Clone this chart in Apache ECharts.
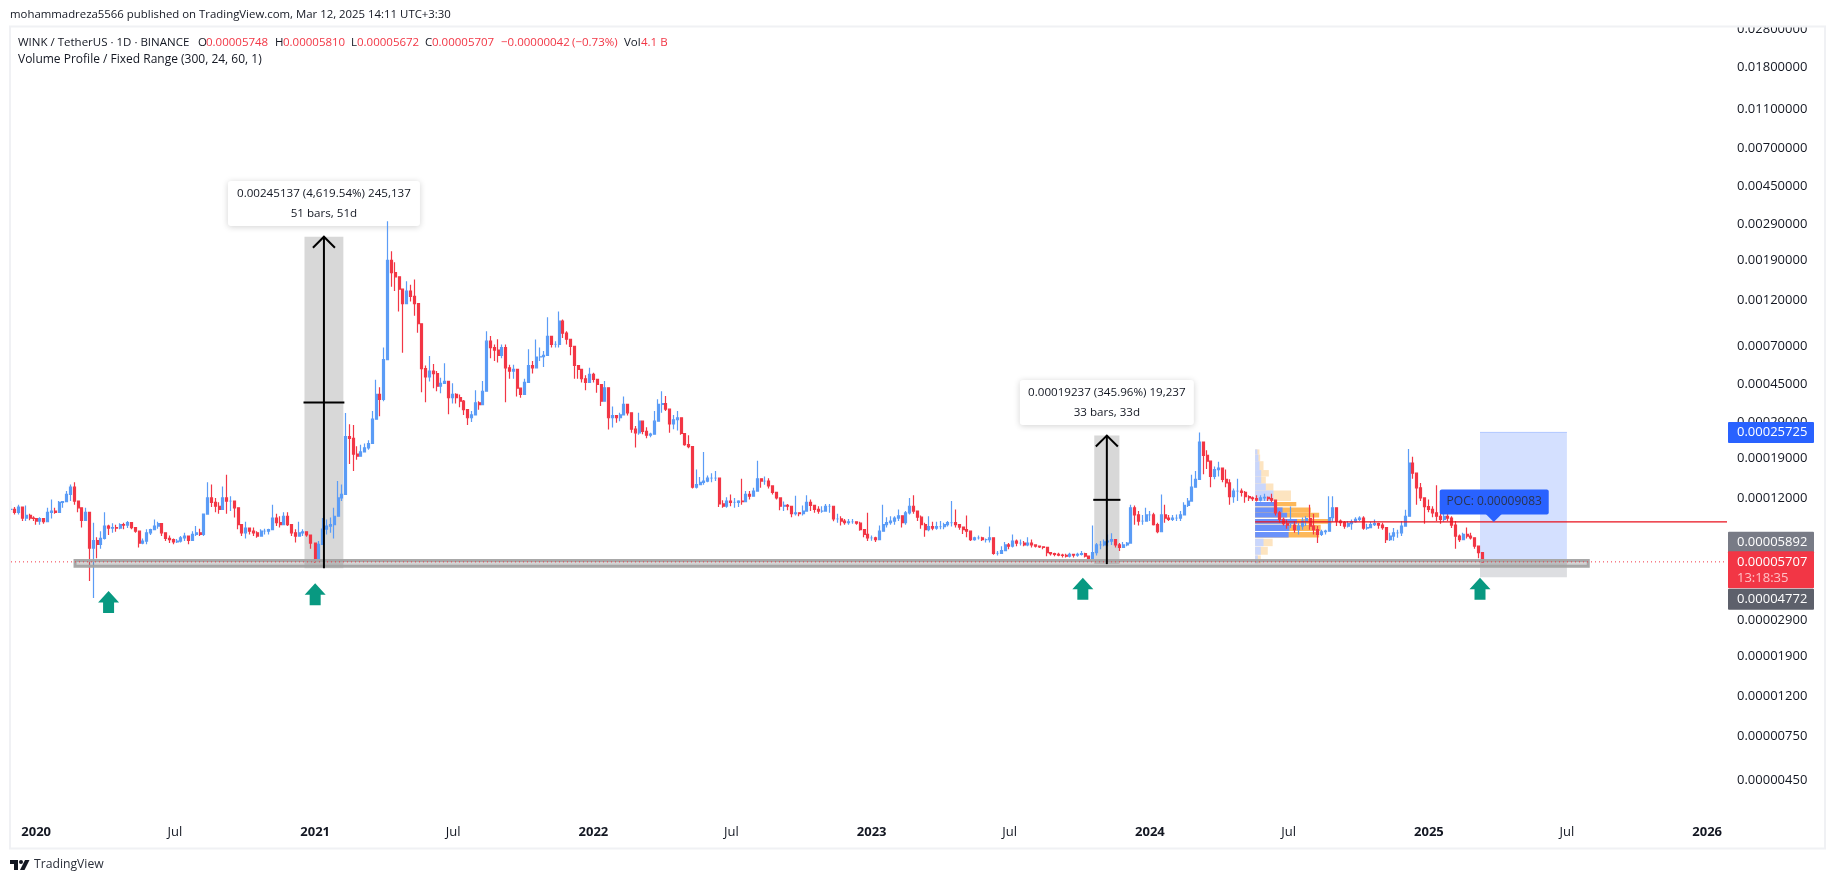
<!DOCTYPE html>
<html><head><meta charset="utf-8"><style>html,body{margin:0;padding:0;background:#fff}#c{width:1835px;height:883px}</style>
<script src="https://cdn.jsdelivr.net/npm/echarts@6/dist/echarts.min.js"></script></head><body><div id="c"></div>
<script>
// All prices are in units of 0.00000001 USDT. Each row is [high, low, close] of one 5-day step.
const UNIT=1e-8;
const barsLate2019=[[11570,10150,10500],[10800,9900,10150],[11100,9900,10800],[10800,9170,9500],[11000,9170,9800],[10000,9250,9500],[9700,9170,9450]];
const bars2020=[[9450,8800,9170],[9600,8800,9450],[9450,8900,9100],[10700,9450,10150],[11800,9450,10300],[10700,10000,10150],[11570,10800,11400],[11570,10700,11500],[13000,11800,12500],[14050,11570,13600],
[14400,11100,11570],[11400,10150,10700],[10000,8500,9250],[10700,9170,10150],[9700,4565,6700],[9000,3750,7300],[7600,5950,7000],[8160,6650,7500],[10150,7400,8650],[8800,7800,8450],
[8950,8000,8500],[8800,8100,8450],[8950,8350,8800],[9000,8350,8750],[9170,8450,9000],[9000,8350,8500],[8500,8000,8160],[7700,6750,7100],[7500,7000,7270],[8350,7000,8000],
[8400,7800,8300],[9350,8300,8650],[9100,8400,8900],[8650,7700,8000],[7800,7270,7500],[7750,7100,7400],[7500,7000,7200],[7450,7100,7270],[7700,7150,7550],[8000,7270,7700],
[7700,7000,7320],[8160,7400,7850],[8650,7700,8000],[8400,7700,7850],[10000,7700,9950],[14400,11400,12000],[14050,10800,11400],[12000,10150,10900],[11400,10000,10500],[13700,11100,12000],
[15700,10000,11570],[12250,10300,11570],[11570,9550,10700],[9550,8350,8800],[8800,7700,8000],[9100,7500,8450],[8500,7850,8160],[8500,7700,8000],[8160,7550,7700],[8350,7700,8160],
[8400,7850,8160],[8400,7850,8300],[11100,8500,9500],[10000,8650,9000],[9700,8500,8800],[10150,8900,9700],[10150,8650,8800],[8800,7700,8000],[8350,7150,7700],[9100,7700,8000],
[8350,7700,8100],[8160,7650,7800],[7850,6650,7100]];
const bars2021=[[6650,5650,5950],[7270,5950,7000],[9500,7100,8350],[9350,7850,8650],[9550,8000,8800],[10700,7500,9700],[14600,9700,12000],[14050,11570,12500],[32200,12800,24500],[28300,17800,24000],
[28000,16400,20000],[21900,18700,19500],[22300,19700,20500],[22600,20700,21500],[23500,21000,22600],[33000,27000,30000],[47500,30500,40000],[43500,31000,37800],[69000,37000,60000],[300000,60000,190000],
[211700,140000,165000],[186000,133000,157000],[158000,105000,136000],[136000,65000,115000],[149000,120000,133000],[143000,118000,125000],[152000,100000,115000],[100000,82000,91000],[88000,41000,54000],[56000,36500,49000],
[62500,46500,52500],[57000,43000,51000],[52500,41500,44000],[48500,40500,45500],[57500,45500,46500],[43000,31800,38500],[45500,36000,40000],[40500,36000,38500],[40000,34500,37000],[37500,31500,33500],
[33000,28000,30500],[33000,29000,31500],[42000,34500,36300],[37000,33500,35500],[46700,38500,41500],[83500,50500,74300],[79000,61000,69000],[71500,59000,67000],[76000,58000,63000],[71500,61000,69000],
[71500,36500,54500],[56500,48000,52500],[56500,48000,53500],[44900,39000,43000],[41500,38500,40000],[48000,40000,46000],[67700,52500,56000],[59000,51000,54500],[75800,56000,61800],[69000,59000,62000],
[66200,55000,63000],[98000,74300,78500],[78500,69000,71500],[74300,69000,71500],[105000,69000,93800],[95500,77000,81500],[83500,71500,76000],[74300,63000,70000],[66200,48000,56000],[56000,48000,53500],
[53500,46000,48000],[50000,42000,46000],[54500,46700,50500]];
const bars2022=[[51500,46000,47600],[47000,40800,44900],[39600,35000,37000],[46700,38500,43200],[40800,26600,30500],[34800,27200,31300],[31500,28800,30500],[32300,29300,31500],[39000,32900,35600],[34800,31300,32300],
[31500,25600,26700],[27700,21600,25600],[32300,25000,29300],[29500,25200,26000],[27300,24000,24900],[25600,24300,25200],[33000,25000,29300],[37800,31500,35600],[41500,32300,36000],[39300,33000,33700],
[32300,25600,28400],[31500,26700,29800],[33000,26300,30500],[29300,25000,25400],[24900,22000,22300],[24900,21400,21800],[21800,13400,13600],[16700,13400,14000],[15300,13900,14400],[20500,14000,14600],
[15600,14400,15100],[16000,14400,15100],[16400,14600,15100],[15100,10800,11200],[11700,10700,10900],[12100,10700,11570],[12500,10900,11400],[12000,10700,11400],[11700,10800,11570],[15000,11100,11500],
[13000,11800,12500],[13000,11800,12250],[13500,12250,13000],[18500,14000,15000],[15000,13500,14600],[15400,14000,14600],[15100,13400,13800],[13200,12500,12800],[12500,11800,12000],[12000,10400,10900],
[11500,10300,11000],[11200,10400,10900],[10900,9600,10000],[12300,9800,10100],[10100,9700,10000],[11000,9800,10300],[12400,10300,11400],[11800,10300,11000],[11100,10100,10500],[10900,10000,10300],
[10900,10100,10300],[11200,10300,10900],[11200,10100,10900],[10500,9150,9400],[10000,9000,9400],[9700,8700,9170],[9400,8800,9000],[9400,8800,9100],[9400,8900,9100],[9000,8800,8950],
[9100,8200,8300],[8300,7600,7850],[10100,7270,7550]];
const bars2023=[[7750,7300,7550],[7650,7200,7400],[8700,7400,8160],[11100,8500,8800],[9600,8500,9000],[9700,8800,9170],[9700,8800,9500],[10500,9170,9750],[9500,8500,9000],[10300,8800,10100],
[12000,9900,10900],[12400,10000,10300],[10100,9170,9600],[9800,8400,8800],[9000,7650,8300],[9700,8160,8600],[9100,8250,8450],[9100,8300,8600],[9170,8350,8600],[9000,8350,8800],
[9170,8600,9000],[11570,8600,9000],[10500,8500,8800],[8800,8300,8550],[8600,7900,8300],[9800,7600,8160],[8000,7270,7400],[7650,7300,7550],[7750,7400,7550],[7650,7270,7400],
[7500,7150,7400],[8600,7150,7550],[7550,6200,6300],[6470,6150,6300],[6850,6400,6500],[7200,6600,6950],[7100,6600,6850],[7850,6750,7270],[7400,6850,7100],[7400,6900,7100],
[7270,6850,6950],[7600,6850,7100],[7400,6750,6950],[6950,6750,6850],[6900,6700,6800],[6850,6600,6750],[6470,6100,6350],[6400,6150,6280],[6350,6100,6230],[6350,6100,6180],
[6280,6000,6150],[6280,6000,6100],[6350,6000,6230],[6280,6000,6180],[6350,6050,6230],[6470,6150,6280],[6350,6000,6100],[6100,5820,5950],[8700,5950,6350],[7100,6150,6950],
[7270,6600,6950],[7400,6850,7200],[7850,6850,7270],[7950,6950,7400],[7400,6750,6950],[7100,6470,6750],[7200,6850,6950],[7200,6850,7100],[11100,7700,10700],[11000,8800,9850],
[10300,8700,9170],[9850,8800,9170],[10700,9170,9850]];
const bars2024=[[10300,9170,9850],[10100,8700,8800],[9000,7950,8100],[12500,9000,9850],[11100,9000,9500],[9850,9170,9350],[9850,9170,9500],[9900,9170,9500],[10300,9170,9850],[11400,9850,11000],
[12000,10800,11570],[15700,12000,13600],[16400,13600,14900],[25725,15800,23000],[20700,15800,19700],[20900,16800,18400],[17000,13600,15400],[17300,14900,16700],[18300,15400,17000],[15400,14400,14900],
[16700,13600,14300],[14900,11100,12200],[13400,11350,13000],[15000,11600,13000],[13400,12200,12800],[13000,11350,12200],[12400,11570,12000],[12200,11600,11900],[12400,11500,11700],[12400,11500,12000],
[12600,11600,12100],[12200,11570,11900],[12600,11400,11700],[11400,9800,10100],[10300,9000,9350],[9550,8700,8900],[9350,8400,8750],[10850,8450,8750],[9170,8000,8300],[9000,7850,8650],
[9550,8300,9170],[9700,8650,9450],[11100,8300,8650],[10000,7850,8300],[8650,7100,7850],[8300,7700,8100],[8300,7850,8160],[12250,8160,9550],[12250,9100,10700],[10300,8650,9170],
[9350,8650,9000],[9170,8400,8650],[9170,8500,8900],[9350,8300,9100],[9600,9000,9350],[9700,9170,9500],[9700,8300,8450],[8900,8300,8500],[9100,8500,8800],[9350,8650,8900],
[9000,8400,8750],[9000,8300,8500],[8300,7100,7400],[8000,7270,7700],[8450,7300,8000],[8300,7550,8000],[9170,7700,8650],[10450,8800,9700],[21200,10900,18000],[19400,15000,16000],
[14600,11100,13500],[14300,11570,12000],[12000,8900,10850]];
const bars2025=[[11800,10150,10500],[10900,9600,10100],[13900,9170,9700],[11570,8900,9350],[11350,9100,9700],[10150,9170,9500],[9700,8450,8750],[9170,6650,7700],[7850,7200,7400],[8000,7400,7850],
[8500,7500,7700],[8000,7400,7550],[7550,6650,6850],[6850,5950,6350],[6350,5650,5707]];
const yearBlocks=[['2019-11-29',barsLate2019],['2020-01-01',bars2020],['2021-01-01',bars2021],['2022-01-01',bars2022],['2023-01-01',bars2023],['2024-01-01',bars2024],['2025-01-01',bars2025]];

const priceTicks=[2800000,1800000,1100000,700000,450000,290000,190000,120000,70000,45000,29000,19000,12000,2900,1900,1200,750,450];
const timeTicks=['2020-01-01','2020-07-01','2021-01-01','2021-07-01','2022-01-01','2022-07-01','2023-01-01','2023-07-01','2024-01-01','2024-07-01','2025-01-01','2025-07-01','2026-01-01'];

// Drawings: price ranges with the date span they were drawn on
const measureStart=['2020-12-18','2023-10-20'];
const measureEnd=['2021-02-07','2023-11-22'];
const measureLow=[5306,5560];
const measureHigh=[250443,24797];
const measureText=[['0.00245137 (4,619.54%) 245,137','51 bars, 51d'],['0.00019237 (345.96%) 19,237','33 bars, 33d']];
const measureLabelPrice=[368000,36400];
const bandStart='2020-02-21',bandEnd='2025-07-29',bandHigh=5800,bandLow=5420;
const longStart='2025-03-09',longEnd='2025-07-01',longTarget=25725,longEntry=5892,longStop=4772;
const lastPrice=5707,pocPrice=9083,pocDate='2025-03-27',profileStart='2024-05-18';
const buyDates=['2020-04-05','2021-01-01','2023-10-05','2025-03-09'];
const buyPrices=[3580,3920,4180,4180];
// Volume profile rows (price top, price bottom, days of up volume, days up+down volume, in value area)
const profileTop=[21100,19900,18400,16600,15400,14200,13100,11450,10750,10100,9400,8780,8080,7470,6800,6150];
const profileBottom=[19900,18400,16600,15400,14200,13100,11600,10900,10100,9550,8880,8180,7570,6850,6200,5620];
const profileUp=[3,4.4,5.7,8,8,14,24,27.5,36,42,55,45,44,11,7.4,3.5];
const profileTotal=[5.7,6.6,11,18,14,24,47,54,73,84,100,86,84,23,16.6,7.4];
const profileInValue=[0,0,0,0,0,0,0,1,1,1,1,1,1,0,0,0];

const FONT='"Open Sans"',INK='#131722',UPC='#5b9cf6',DOWN='#f23645';
const ms=d=>+new Date(d+'T00:00:00Z');
const DAY=864e5;
const candleRows=[];let prev=null;
yearBlocks.forEach(([start,rows])=>rows.forEach((r,i)=>{
  const open=prev===null?r[2]:prev;prev=r[2];
  candleRows.push([ms(start)+i*5*DAY,open,r[2],Math.min(r[1],open,r[2]),Math.max(r[0],open,r[2])]);
}));
const xMin=ms('2019-11-29'),xMax=ms('2026-01-27');
const rectShape=(api,a,b,hi,lo)=>{const p=api.coord([a,hi]),q=api.coord([b,lo]);return {x:p[0],y:p[1],width:q[0]-p[0],height:q[1]-p[1]};};
const customBase={type:'custom',silent:true,clip:true,animation:false,encode:{x:0,y:1}};

const backRects=Object.assign({},customBase,{z:1,data:[[ms(longStart),longEntry]],renderItem:(p,api)=>{
  const kids=[];
  measureStart.forEach((s,i)=>kids.push({type:'rect',shape:rectShape(api,ms(s),ms(measureEnd[i]),measureHigh[i],measureLow[i]),style:{fill:'rgba(120,120,120,0.29)'}}));
  kids.push({type:'rect',shape:rectShape(api,ms(longStart),ms(longEnd),longTarget,longEntry),style:{fill:'rgba(41,98,255,0.2)'}});
  kids.push({type:'rect',shape:rectShape(api,ms(longStart),ms(longEnd),longEntry,longStop),style:{fill:'rgba(120,123,134,0.25)'}});
  const t=api.coord([ms(longStart),longTarget]),t2=api.coord([ms(longEnd),longTarget]);
  kids.push({type:'line',shape:{x1:t[0],y1:t[1],x2:t2[0],y2:t[1]},style:{stroke:'rgba(41,98,255,0.3)',lineWidth:1}});
  profileTop.forEach((top,i)=>{
    const s=ms(profileStart),bot=profileBottom[i],on=profileInValue[i];
    kids.push({type:'rect',shape:rectShape(api,s,s+profileTotal[i]*DAY,top,bot),style:{fill:on?'#fdb85a':'#fde4c0'}});
    kids.push({type:'rect',shape:rectShape(api,s,s+profileUp[i]*DAY,top,bot),style:{fill:on?'#6a91fa':'#c9d6fc'}});
  });
  return {type:'group',children:kids};
}});

const frontMarks=Object.assign({},customBase,{z:5,data:[[ms(bandStart),bandHigh]],renderItem:(p,api)=>{
  const kids=[];
  kids.push({type:'rect',shape:rectShape(api,ms(bandStart),ms(bandEnd),bandHigh,bandLow),style:{fill:'rgba(120,120,120,0.35)',stroke:'#a3a3a3',lineWidth:3,opacity:0.95}});
  const a=api.coord([xMin,lastPrice]),b=api.coord([xMax,lastPrice]);
  kids.push({type:'line',shape:{x1:a[0],y1:a[1],x2:b[0],y2:b[1]},style:{stroke:DOWN,lineWidth:1,lineDash:[1,3]}});
  const c=api.coord([ms(profileStart),pocPrice]),d=api.coord([xMax,pocPrice]);
  kids.push({type:'line',shape:{x1:c[0],y1:c[1],x2:d[0],y2:d[1]},style:{stroke:'#e8101c',lineWidth:1.3}});
  measureStart.forEach((s,i)=>{
    const mid=ms(s)/2+ms(measureEnd[i])/2;
    const lo=api.coord([mid,measureLow[i]]),hi=api.coord([mid,measureHigh[i]]);
    const gm=Math.sqrt(measureLow[i]*measureHigh[i]);
    const m1=api.coord([ms(s),gm]),m2=api.coord([ms(measureEnd[i]),gm]);
    const ink={stroke:'#000',lineWidth:2,fill:'none'};
    kids.push({type:'line',shape:{x1:lo[0],y1:lo[1],x2:hi[0],y2:hi[1]},style:ink});
    kids.push({type:'line',shape:{x1:m1[0]-1,y1:m1[1],x2:m2[0]+1,y2:m2[1]},style:ink});
    kids.push({type:'polyline',shape:{points:[[hi[0]-11,hi[1]+11],[hi[0],hi[1]],[hi[0]+11,hi[1]+11]]},style:ink});
  });
  return {type:'group',children:kids};
}});

const pocTag=Object.assign({},customBase,{z:6,clip:false,data:[[ms(pocDate),pocPrice]],renderItem:(p,api)=>{
  const c=api.coord([ms(pocDate),pocPrice]);
  return {type:'group',children:[
   {type:'rect',shape:{x:c[0]-54,y:c[1]-32.5,width:109,height:25,r:2},style:{fill:'#2962ff'}},
   {type:'polygon',shape:{points:[[c[0]-8,c[1]-8],[c[0]+8,c[1]-8],[c[0],c[1]]]},style:{fill:'#2962ff'}},
   {type:'text',style:{x:c[0]+0.5,y:c[1]-20,text:'POC: 0.00009083',fill:'#2b3550',font:'12px '+FONT,align:'center',verticalAlign:'middle'}}
  ]};
}});

const tagPrices=[25725,5892,5707,4772];
const tagText=['0.00025725','0.00005892','0.00005707','0.00004772'];
const tagColor=['#2962ff','#787b86','#f23645','#5d606b'];
const tagShift=[0,-17,0,22];
const priceTags=Object.assign({},customBase,{z:7,clip:false,data:tagPrices.map(v=>[xMax,v]),renderItem:(p,api)=>{
  const i=p.dataIndex,c=api.coord([xMax,tagPrices[i]]),cy=c[1]+tagShift[i],x=c[0]+1;
  const kids=[];
  const isLast=i===2;
  kids.push({type:'rect',shape:{x:x,y:cy-10.5,width:86,height:isLast?37:21,r:1},style:{fill:tagColor[i]}});
  kids.push({type:'text',style:{x:x+9,y:cy,text:tagText[i],fill:'#fff',font:'13px '+FONT,verticalAlign:'middle'}});
  if(isLast)kids.push({type:'text',style:{x:x+9,y:cy+16,text:'13:18:35',fill:'#ffc1c6',font:'13px '+FONT,verticalAlign:'middle'}});
  return {type:'group',children:kids};
}});

const shadowLabel={show:true,position:'inside',backgroundColor:'#fff',borderRadius:3,shadowBlur:6,shadowColor:'rgba(0,0,0,0.18)',shadowOffsetY:1,
  color:INK,fontFamily:FONT,fontSize:11.6,lineHeight:20,align:'center',verticalAlign:'middle',height:45,opacity:1,
  formatter:p=>measureText[p.dataIndex].join('\n')};
const measureLabels={type:'scatter',z:2,silent:true,symbolSize:1,itemStyle:{color:'transparent',opacity:1},
  data:measureStart.map((s,i)=>({value:[ms(s)/2+ms(measureEnd[i])/2,measureLabelPrice[i]],label:{width:[192,174][i]}})),label:shadowLabel};
const buyArrows={type:'scatter',z:6,silent:true,symbol:'path://M10.5 0L21 11.5H16V22H5V11.5H0Z',symbolSize:[21,22],itemStyle:{color:'#089981',opacity:1},
  data:buyDates.map((d,i)=>[ms(d),buyPrices[i]])};

const headerPieces=[['WINK / TetherUS · 1D · BINANCE',18,INK],['O',198,INK],['0.00005748',206,DOWN],['H',275,INK],['0.00005810',283,DOWN],['L',351,INK],['0.00005672',357,DOWN],['C',425,INK],['0.00005707',432,DOWN],['−0.00000042',501,DOWN],['(−0.73%)',572,DOWN],['Vol',624,INK],['4.1 B',641,DOWN]];
const g=[
 {type:'rect',z:90,shape:{x:0,y:0,width:1835,height:26},style:{fill:'#fff'}},
 {type:'rect',z:91,shape:{x:10,y:26.5,width:1815,height:822},style:{fill:'none',stroke:'#f0f1f4',lineWidth:2}},
 {type:'text',z:92,x:10,y:15,style:{text:'mohammadreza5566 published on TradingView.com, Mar 12, 2025 14:11 UTC+3:30',fill:'#131722',font:'11.4px '+FONT,verticalAlign:'middle'}},
 {type:'text',z:92,x:18,y:60,style:{text:'Volume Profile / Fixed Range (300, 24, 60, 1)',fill:INK,font:'12px '+FONT,verticalAlign:'middle'}},
 {type:'text',z:92,x:34,y:865,style:{text:'TradingView',fill:'#2a2e39',font:'12.2px '+FONT,verticalAlign:'middle'}},
 {type:'polygon',z:92,shape:{points:[[10,860],[18,860],[18,870],[14,870],[14,864],[10,864]]},style:{fill:'#131722'}},
 {type:'circle',z:92,shape:{cx:21,cy:862,r:2},style:{fill:'#131722'}},
 {type:'polygon',z:92,shape:{points:[[25,860],[29.5,860],[24.5,870],[20,870]]},style:{fill:'#131722'}}
].concat(headerPieces.map(h=>({type:'text',z:92,x:h[1],y:42.5,style:{text:h[0],fill:h[2],font:'11.5px '+FONT,verticalAlign:'middle'}})));

const chart=echarts.init(document.getElementById('c'));
chart.setOption({animation:false,backgroundColor:'#fff',graphic:g,
grid:{left:11,right:108,top:28,bottom:64},
xAxis:{type:'value',min:xMin,max:xMax,axisLine:{show:false},axisTick:{show:false},splitLine:{show:false},
 axisLabel:{customValues:timeTicks.map(ms),fontFamily:FONT,fontSize:13,color:INK,margin:7,
 formatter:v=>{const d=new Date(v);return d.getUTCMonth()==0?'{b|'+d.getUTCFullYear()+'}':'Jul'},rich:{b:{fontWeight:'bold',fontSize:13,fontFamily:FONT,color:INK}}}},
yAxis:{type:'log',position:'right',min:287,max:2835000,axisLine:{show:false},axisTick:{show:false},splitLine:{show:false},
 axisLabel:{customValues:priceTicks,fontFamily:FONT,fontSize:13,color:INK,margin:10,formatter:v=>(Number(v)*UNIT).toFixed(8)}},
series:[backRects,
 {type:'candlestick',z:3,silent:true,barWidth:2.5,data:candleRows,encode:{x:0,y:[1,2,3,4]},itemStyle:{color:UPC,color0:DOWN,borderColor:UPC,borderColor0:DOWN,borderWidth:1.2}},
 frontMarks,buyArrows,pocTag,priceTags,measureLabels]});
</script></body></html>
